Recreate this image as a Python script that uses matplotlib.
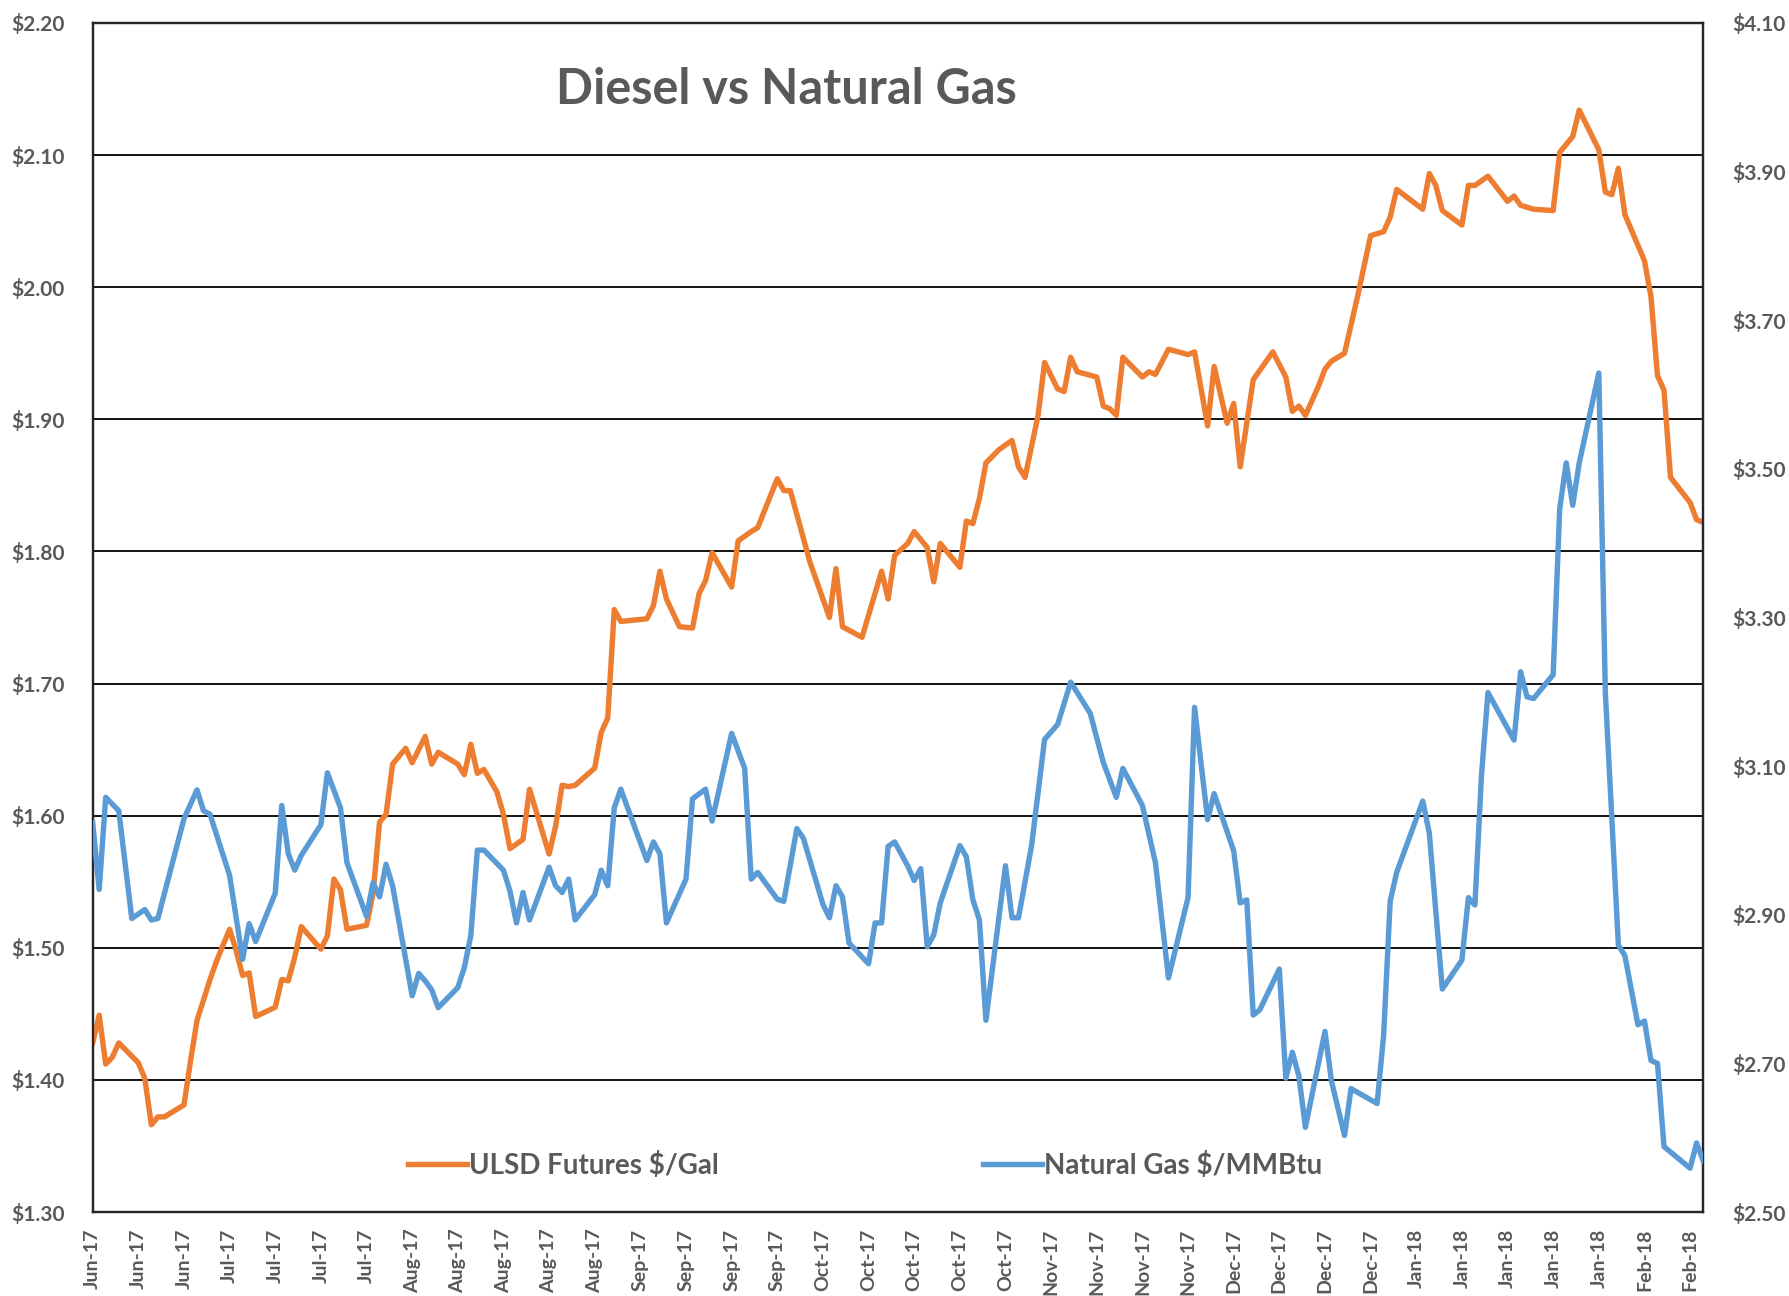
import numpy as np
import matplotlib
matplotlib.use("Agg")
import matplotlib.pyplot as plt

plt.rcParams['font.family'] = ['Lato', 'DejaVu Sans']

# ---- data (x = calendar days since 13-Jun-2017) ----
ulsd_day = [0, 1, 2, 3, 4, 7, 8, 9, 10, 11, 14, 15, 16, 18, 19, 21, 22, 23, 24, 25,
            28, 29, 30, 31, 32, 35, 36, 37, 38, 39, 42, 43, 44, 45, 46, 48, 49, 51, 52, 53,
            56, 57, 58, 59, 60, 62, 63, 64, 66, 67, 70, 71, 72, 73, 74, 77, 78, 79, 80, 81,
            85, 86, 87, 88, 90, 92, 93, 94, 95, 98, 99, 101, 102, 105, 106, 107, 110, 113, 114, 115,
            118, 121, 122, 123, 125, 126, 128, 129, 130, 133, 134, 135, 136, 137, 139, 141, 142, 143, 145, 146,
            148, 149, 150, 151, 154, 155, 156, 157, 158, 161, 162, 163, 165, 168, 169, 171, 172, 174, 175, 176,
            177, 178, 181, 183, 184, 185, 186, 188, 189, 190, 192, 194, 196, 198, 199, 200, 204, 205, 206, 207,
            210, 211, 212, 214, 217, 218, 219, 221, 224, 225, 227, 228, 231, 232, 233, 234, 235, 238, 239, 240,
            241, 242, 245, 246, 247]
ulsd = [1.428, 1.449, 1.412, 1.417, 1.428, 1.413, 1.401, 1.366, 1.372, 1.372, 1.381, 1.414, 1.445, 1.476, 1.490, 1.514, 1.498, 1.479, 1.481, 1.448,
        1.455, 1.476, 1.475, 1.493, 1.516, 1.499, 1.509, 1.552, 1.544, 1.514, 1.517, 1.541, 1.595, 1.601, 1.639, 1.651, 1.640, 1.660, 1.639, 1.648,
        1.639, 1.631, 1.654, 1.632, 1.635, 1.618, 1.601, 1.575, 1.582, 1.620, 1.571, 1.592, 1.623, 1.622, 1.623, 1.636, 1.663, 1.674, 1.756, 1.747,
        1.749, 1.759, 1.785, 1.764, 1.743, 1.742, 1.768, 1.778, 1.799, 1.773, 1.808, 1.815, 1.818, 1.855, 1.846, 1.846, 1.792, 1.750, 1.787, 1.743,
        1.735, 1.785, 1.764, 1.797, 1.806, 1.815, 1.803, 1.777, 1.806, 1.788, 1.823, 1.821, 1.840, 1.867, 1.877, 1.884, 1.864, 1.856, 1.903, 1.943,
        1.923, 1.921, 1.947, 1.936, 1.932, 1.910, 1.908, 1.903, 1.947, 1.932, 1.936, 1.934, 1.953, 1.949, 1.951, 1.895, 1.940, 1.897, 1.912, 1.864,
        1.897, 1.930, 1.951, 1.932, 1.906, 1.910, 1.903, 1.925, 1.938, 1.944, 1.950, 1.993, 2.039, 2.042, 2.053, 2.074, 2.059, 2.086, 2.077, 2.058,
        2.047, 2.077, 2.077, 2.084, 2.065, 2.069, 2.062, 2.059, 2.058, 2.102, 2.114, 2.134, 2.104, 2.072, 2.070, 2.090, 2.055, 2.020, 1.993, 1.933,
        1.922, 1.856, 1.837, 1.824, 1.822]

gas_day = [0, 1, 2, 4, 6, 8, 9, 10, 14, 16, 17, 18, 21, 23, 24, 25, 28, 29, 30, 31,
           32, 35, 36, 38, 39, 42, 43, 44, 45, 46, 49, 50, 51, 52, 53, 56, 57, 58, 59, 60,
           62, 63, 64, 65, 66, 67, 70, 71, 72, 73, 74, 77, 78, 79, 80, 81, 85, 86, 87, 88,
           91, 92, 94, 95, 98, 100, 101, 102, 105, 106, 108, 109, 112, 113, 114, 115, 116, 119, 120, 121,
           122, 123, 125, 126, 127, 128, 129, 130, 133, 134, 135, 136, 137, 140, 141, 142, 144, 146, 148, 150,
           153, 155, 157, 158, 161, 163, 165, 168, 169, 171, 172, 175, 176, 177, 178, 179, 182, 183, 184, 185,
           186, 189, 190, 192, 193, 197, 198, 199, 200, 204, 205, 207, 210, 211, 212, 213, 214, 218, 219, 220,
           221, 224, 225, 226, 227, 228, 231, 232, 234, 235, 237, 238, 239, 240, 241, 245, 246, 247]
gas = [3.024, 2.934, 3.058, 3.040, 2.895, 2.907, 2.893, 2.895, 3.029, 3.068, 3.040, 3.035, 2.953, 2.840, 2.888, 2.864, 2.929, 3.047, 2.982, 2.960,
       2.980, 3.021, 3.091, 3.044, 2.970, 2.898, 2.943, 2.924, 2.968, 2.939, 2.791, 2.821, 2.811, 2.799, 2.775, 2.802, 2.829, 2.872, 2.987, 2.987,
       2.969, 2.960, 2.932, 2.889, 2.930, 2.893, 2.964, 2.939, 2.930, 2.948, 2.893, 2.927, 2.960, 2.939, 3.044, 3.069, 2.973, 2.998, 2.982, 2.889,
       2.948, 3.056, 3.069, 3.026, 3.144, 3.097, 2.948, 2.957, 2.921, 2.918, 3.016, 3.003, 2.914, 2.896, 2.939, 2.924, 2.862, 2.834, 2.889, 2.889,
       2.992, 2.998, 2.966, 2.946, 2.962, 2.857, 2.873, 2.916, 2.993, 2.978, 2.920, 2.893, 2.758, 2.966, 2.896, 2.896, 2.993, 3.136, 3.156, 3.213,
       3.171, 3.105, 3.058, 3.097, 3.047, 2.970, 2.815, 2.923, 3.179, 3.028, 3.063, 2.986, 2.916, 2.920, 2.765, 2.772, 2.827, 2.680, 2.715, 2.683,
       2.614, 2.743, 2.676, 2.603, 2.666, 2.646, 2.738, 2.918, 2.957, 3.053, 3.010, 2.800, 2.839, 2.923, 2.913, 3.087, 3.199, 3.135, 3.227, 3.193,
       3.191, 3.223, 3.446, 3.508, 3.451, 3.508, 3.629, 3.199, 2.859, 2.845, 2.752, 2.757, 2.704, 2.700, 2.588, 2.559, 2.593, 2.569]

tick_days = list(range(0, 246, 7))
tick_labels = (["Jun-17"] * 3 + ["Jul-17"] * 4 + ["Aug-17"] * 5 + ["Sep-17"] * 4 +
               ["Oct-17"] * 5 + ["Nov-17"] * 4 + ["Dec-17"] * 4 + ["Jan-18"] * 5 + ["Feb-18"] * 2)
left_ticks = [1.30, 1.40, 1.50, 1.60, 1.70, 1.80, 1.90, 2.00, 2.10, 2.20]
right_ticks = [2.50, 2.70, 2.90, 3.10, 3.30, 3.50, 3.70, 3.90, 4.10]

title = "Diesel vs Natural Gas"
ulsd_name = "ULSD Futures $/Gal"
gas_name = "Natural Gas $/MMBtu"

# ---- styling ----
ORANGE = "#ED7D31"
BLUE = "#5B9BD5"
TXT = "#595959"
EDGE = "#262626"

fig = plt.figure(figsize=(17.89, 12.96), dpi=100)
ax = fig.add_axes([0.0518, 0.0648, 0.9002, 0.9175])
ax2 = ax.twinx()

l1, = ax.plot(ulsd_day, ulsd, color=ORANGE, lw=3.9, solid_joinstyle='round', label=ulsd_name, zorder=3)
l2, = ax2.plot(gas_day, gas, color=BLUE, lw=3.9, solid_joinstyle='round', label=gas_name, zorder=3)

ax.set_xlim(0, 247)
ax.set_ylim(1.30, 2.20)
ax2.set_ylim(2.50, 4.10)
ax.set_yticks(left_ticks)
ax.set_yticklabels([f"${v:.2f}" for v in left_ticks])
ax2.set_yticks(right_ticks)
ax2.set_yticklabels([f"${v:.2f}" for v in right_ticks])
ax.set_xticks(tick_days)
ax.set_xticklabels(tick_labels, rotation=90, ha='center', va='top')

ax.grid(axis='y', color='black', lw=1.3)
ax.set_axisbelow(True)

for a in (ax, ax2):
    for s in a.spines.values():
        s.set_color(EDGE)
        s.set_linewidth(1.6)

ax.tick_params(axis='y', length=0, pad=20, labelsize=15, labelcolor=TXT)
ax2.tick_params(axis='y', length=0, pad=21, labelsize=15, labelcolor=TXT)
ax.tick_params(axis='x', length=0, pad=12, labelsize=14, labelcolor=TXT)
for lab in ax.get_yticklabels() + ax2.get_yticklabels() + ax.get_xticklabels():
    lab.set_fontweight('bold')

fig.text(0.4397, 0.931, title, ha='center', va='center', fontsize=35,
         fontweight='bold', color=TXT)

leg_kw = dict(loc='center left', frameon=False, fontsize=20, handlelength=2.1,
              handletextpad=0.08, borderaxespad=0, borderpad=0)
leg1 = ax.legend(handles=[l1], bbox_to_anchor=(0.196, 0.0395), **leg_kw)
ax.add_artist(leg1)
leg2 = ax.legend(handles=[l2], bbox_to_anchor=(0.553, 0.0395), **leg_kw)
for lg in (leg1, leg2):
    for t in lg.get_texts():
        t.set_color(TXT)
        t.set_fontweight('bold')

fig.savefig("out.png", dpi=100)
